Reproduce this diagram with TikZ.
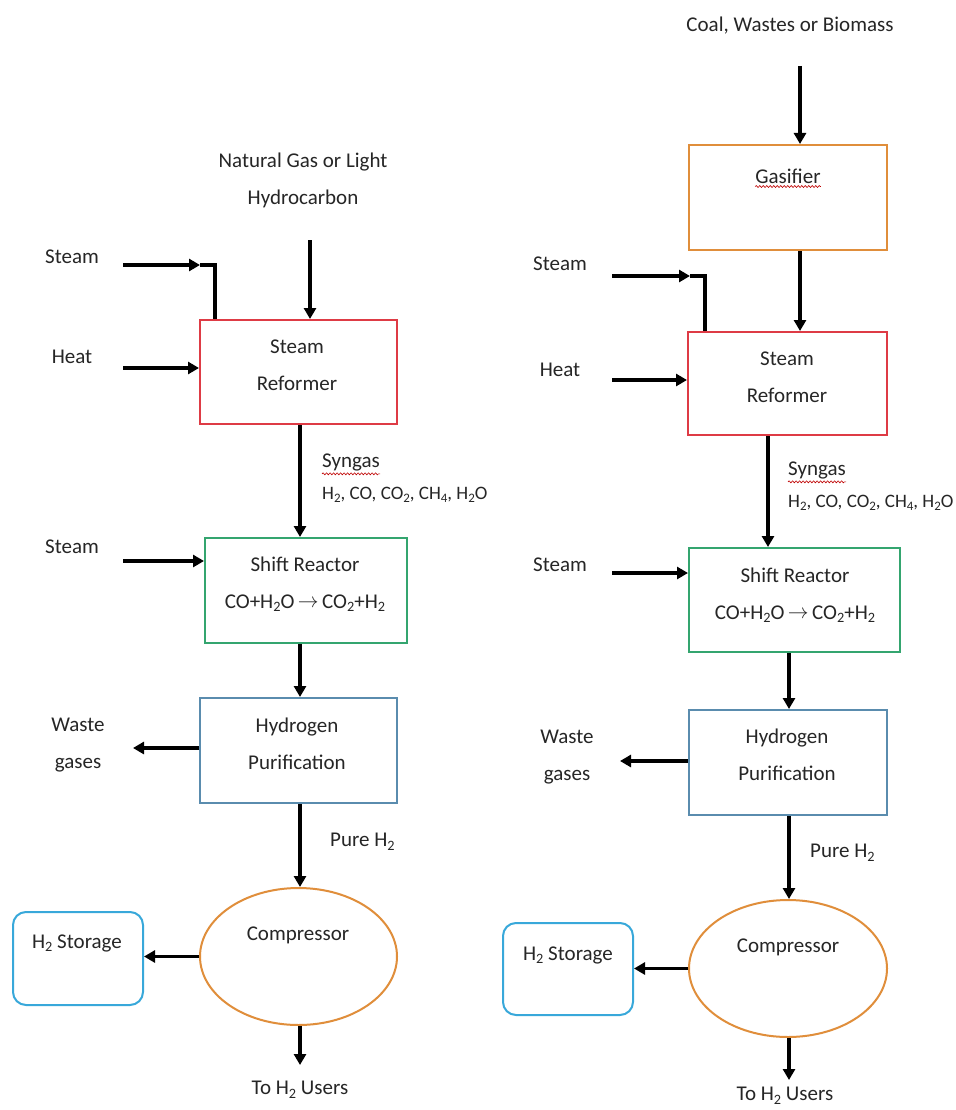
\documentclass[tikz,border=0pt]{standalone}
\usepackage{fontspec}
\setmainfont{Carlito}
\usetikzlibrary{arrows.meta,shapes.geometric,decorations.pathmorphing}
\newcommand{\lsub}[1]{\raisebox{-0.35ex}{\scalebox{0.68}{#1}}}
\newcommand{\rarr}{\,\raisebox{0.1ex}{$\rightarrow$}\,}
\definecolor{cred}{HTML}{DE3B45}
\definecolor{cgreen}{HTML}{34A56F}
\definecolor{csteel}{HTML}{5A8CAE}
\definecolor{corange}{HTML}{E08E3B}
\definecolor{cblue}{HTML}{38A8DA}
\begin{document}
\begin{tikzpicture}[x=1pt,y=-1pt,
  txt/.style={font=\fontsize{21}{37}\selectfont, align=center, inner sep=0pt, text=black!85},
  small/.style={font=\fontsize{19}{22}\selectfont, inner sep=0pt, text=black!85},
  box/.style={draw, line width=2pt, rectangle, inner sep=0pt},
  oval/.style={draw=corange, line width=2pt, ellipse, inner sep=0pt},
  store/.style={draw=cblue, line width=2pt, rectangle, rounded corners=13pt, inner sep=0pt},
  flow/.style={line width=3.2pt, -{Triangle[length=11pt,width=12pt]}},
  pipe/.style={line width=3.2pt},
  wavy/.style={red!75!black, line width=0.6pt, decorate, decoration={snake, amplitude=1pt, segment length=3.5pt}}]
\useasboundingbox[fill=white] (0,0) rectangle (955,1110);

% ================= LEFT =================
\node[txt] (ngL) at (303,180) {Natural Gas or Light\\Hydrocarbon};
\coordinate (ngIn) at (310,240);

\node[box, draw=cred, minimum width=197pt, minimum height=104pt] (refL) at (298.5,372) {};
\node[txt] (refLt) at (297,365) {Steam\\Reformer};

\node[txt] (stL1) at (72,257) {Steam};
\coordinate (stL1a) at (123,265);
\coordinate (stL1b) at (200,265);
\coordinate (stL1c) at (215,265);

\node[txt] (htL) at (72,357) {Heat};
\coordinate (htLa) at (123,368);

\node[box, draw=cgreen, minimum width=202pt, minimum height=105pt] (shL) at (306,590.5) {};
\node[txt] (shLt) at (305,584) {Shift Reactor\\CO+H\lsub{2}O\rarr CO\lsub{2}+H\lsub{2}};

\node[txt, anchor=west] (sgL) at (322,462) {Syngas};
\node[small, anchor=west] (sgLl) at (322,495) {H\lsub{2}, CO, CO\lsub{2}, CH\lsub{4}, H\lsub{2}O};

\node[txt] (stL2) at (72,547) {Steam};
\coordinate (stL2a) at (123,561);

\node[box, draw=csteel, minimum width=197pt, minimum height=105pt] (puL) at (298.5,750.5) {};
\node[txt] (puLt) at (297,744) {Hydrogen\\Purification};

\node[txt] (wsL) at (78,745) {Waste\\gases};
\coordinate (wsLa) at (133,748);

\node[txt, anchor=west] (phL) at (330,842) {Pure H\lsub{2}};

\node[oval, minimum width=197pt, minimum height=137pt] (coL) at (298.5,956.5) {};
\node[txt] (coLt) at (298,935) {Compressor};

\node[store, minimum width=130pt, minimum height=93pt] (sgStL) at (78,958.5) {};
\node[txt] (sgStLt) at (77,943) {H\lsub{2} Storage};

\coordinate (usLa) at (300,1065);
\node[txt] (usL) at (300,1090) {To H\lsub{2} Users};

% left connectors
\draw[flow] (ngIn) -- (ngIn |- refL.north);
\draw[flow] (stL1a) -- (stL1b);
\draw[pipe] (stL1b) -- (stL1c) -- (stL1c |- refL.north);
\draw[flow] (htLa) -- (htLa -| refL.west);
\draw[flow] (refL.south -| usLa) -- (usLa |- shL.north);
\draw[flow] (stL2a) -- (stL2a -| shL.west);
\draw[flow] (shL.south -| usLa) -- (usLa |- puL.north);
\draw[flow] (wsLa -| puL.west) -- (wsLa);
\draw[flow] (puL.south -| usLa) -- (usLa |- coL.north);
\draw[flow] (coL.west) -- (coL.west -| sgStL.east);
\draw[flow] (coL.south -| usLa) -- (usLa);
\draw[wavy] ([yshift=-3pt]sgL.south west) -- ([yshift=-3pt]sgL.south east);

% ================= RIGHT =================
\node[txt] (cwR) at (790,26) {Coal, Wastes or Biomass};
\coordinate (cwIn) at (800,66);

\node[box, draw=corange, minimum width=198pt, minimum height=105pt] (gaR) at (788,197.5) {};
\node[txt] (gaRt) at (788,176) {Gasifier};
\draw[wavy] ([yshift=-3pt]gaRt.south west) -- ([yshift=-3pt]gaRt.south east);

\node[box, draw=cred, minimum width=199pt, minimum height=103pt] (refR) at (787.5,383.5) {};
\node[txt] (refRt) at (787,377) {Steam\\Reformer};

\node[txt] (stR1) at (560,264) {Steam};
\coordinate (stR1a) at (612,276);
\coordinate (stR1b) at (690,276);
\coordinate (stR1c) at (705,276);

\node[txt] (htR) at (560,370) {Heat};
\coordinate (htRa) at (612,380);

\node[txt, anchor=west] (sgR) at (788,470) {Syngas};
\node[small, anchor=west] (sgRl) at (788,503) {H\lsub{2}, CO, CO\lsub{2}, CH\lsub{4}, H\lsub{2}O};
\draw[wavy] ([yshift=-3pt]sgR.south west) -- ([yshift=-3pt]sgR.south east);
\coordinate (sgRx) at (768,0);

\node[box, draw=cgreen, minimum width=211pt, minimum height=104pt] (shR) at (794.5,600) {};
\node[txt] (shRt) at (795,595) {Shift Reactor\\CO+H\lsub{2}O\rarr CO\lsub{2}+H\lsub{2}};

\node[txt] (stR2) at (560,565) {Steam};
\coordinate (stR2a) at (612,573);

\node[box, draw=csteel, minimum width=198pt, minimum height=105pt] (puR) at (788,762.5) {};
\node[txt] (puRt) at (787,755) {Hydrogen\\Purification};

\node[txt] (wsR) at (567,757) {Waste\\gases};
\coordinate (wsRa) at (620,761);

\node[txt, anchor=west] (phR) at (810,853) {Pure H\lsub{2}};

\node[oval, minimum width=198pt, minimum height=137pt] (coR) at (788,968.5) {};
\node[txt] (coRt) at (788,947) {Compressor};

\node[store, minimum width=130pt, minimum height=92pt] (sgStR) at (568,969) {};
\node[txt] (sgStRt) at (568,955) {H\lsub{2} Storage};

\coordinate (usRa) at (789,1080);
\node[txt] (usR) at (785,1096) {To H\lsub{2} Users};

% right connectors
\draw[flow] (cwIn) -- (cwIn |- gaR.north);
\draw[flow] (gaR.south -| cwIn) -- (cwIn |- refR.north);
\draw[flow] (stR1a) -- (stR1b);
\draw[pipe] (stR1b) -- (stR1c) -- (stR1c |- refR.north);
\draw[flow] (htRa) -- (htRa -| refR.west);
\draw[flow] (refR.south -| sgRx) -- (sgRx |- shR.north);
\draw[flow] (stR2a) -- (stR2a -| shR.west);
\draw[flow] (shR.south -| usRa) -- (usRa |- puR.north);
\draw[flow] (wsRa -| puR.west) -- (wsRa);
\draw[flow] (puR.south -| usRa) -- (usRa |- coR.north);
\draw[flow] (coR.west) -- (coR.west -| sgStR.east);
\draw[flow] (coR.south -| usRa) -- (usRa);
\end{tikzpicture}
\end{document}
